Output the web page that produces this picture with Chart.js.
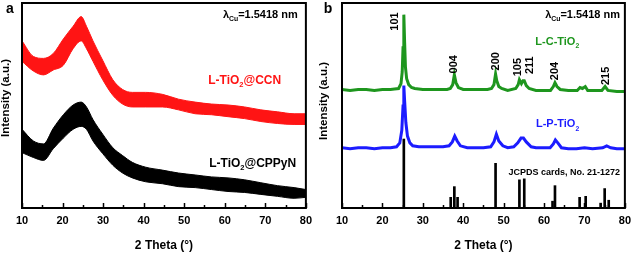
<!DOCTYPE html>
<html><head><meta charset="utf-8">
<script src="https://cdn.jsdelivr.net/npm/chart.js@4.4.1/dist/chart.umd.min.js"></script>
<style>
html,body{margin:0;padding:0;background:#fff;overflow:hidden;width:637px;height:255px}
canvas{position:absolute;top:0}
#ca{left:0}#cb{left:318px}
</style></head><body>
<canvas id="ca" width="318" height="255"></canvas>
<canvas id="cb" width="319" height="255"></canvas>
<script>
// ---------- Panel a data (amorphous, band envelopes) ----------
const thetaA = [10,12.8,15.3,17.7,20.2,22.6,24.6,25.9,27.5,29.9,32.4,34.8,37.2,40.5,44.6,48.6,52.7,56.7,60.8,64.9,68.9,73,77.1,80];
const ccnUpper = [172,156,154,159,174,187,197,187,172,152,132,122,119,119,117,112,109,107,106,104,101,99,97,97];
const ccnLower = [151,141,137,142,147,164,172,164,151,132,116,107,104,104,104,101,97,96,94,92,89,87,86,86];
const cppynUpper = [81,69,66,82,96,106,109,104,91,76,62,54,47,42,39,36,34,32,31,29,26,23,21,19];
const cppynLower = [57,52,49,61,72,81,84,81,69,56,44,36,31,27,25,22,21,19,17,16,14,12,10,11];

// ---------- Panel b data ----------
const lcTheta = [10,12,14,16,18,20,22,23,24.0,24.6,24.9,25.1,25.3,25.5,25.7,26.0,26.5,27.2,28,30,32,34,36,36.8,37.4,37.8,38.2,38.8,40,42,44,46,47.0,47.6,48.0,48.3,48.8,49.5,51,53.0,53.6,53.9,54.4,54.8,55.1,55.6,56.3,58,60,61.6,62.3,62.7,63.2,64.0,66,68.2,68.9,69.5,70.2,70.8,72,74.3,75.1,75.8,78,80];
const lcInt = [122,121,122,122,121,122,122,122.5,123,128,140,165,199,170,145,133,127,124,123,122,122,122,122,123,127,137,129,124,122,122,122,122,123,127,138,131,125,123,121,123,127,132,128,131,131,126,123,121,121,121,125,129,125,122,121,121,124,123,125,121,121,121,125,121,120,120];
const lpTheta = [10,12,14,16,18,20,22,23.5,24.3,24.8,25.1,25.3,25.5,25.8,26.2,26.8,27.5,29,31,33,35,36.5,37.3,37.9,38.5,39.3,41,43,45,46.8,47.6,48.2,48.8,49.8,51,52.5,53.5,54.3,54.9,55.6,56.8,58,60,61.5,62.3,62.8,63.4,64.3,66,68,70,72,74.5,75.5,76.5,78,80];
const lpInt = [62,61,62,62,61,62,62,63,67,80,105,126,110,88,74,67,64,63,63,63,63,64,68,74,69,64,62,62,62,63,68,76,69,64,62,63,67,72,72,68,63,62,62,62,66,70,67,62,61,61,62,61,62,64,62,61,61];
const jcpdsTheta = [25.3,36.9,37.8,38.6,48.0,53.9,55.1,62.1,62.7,68.8,70.3,74.0,75.0,76.0];
const jcpdsInt = [71,11,22,11,46,29,30,7,23,11,12,5,20,8];
const hklLabels = ['101','004','200','105','211','204','215'];

const xTicks = [10,20,30,40,50,60,70,80];

const RED='#ff1414', GREEN='#1e961e', BLUE='#1c1cff';
const FONT='"Liberation Sans", Arial, sans-serif';

function pts(xs, ys){ return xs.map((x,i)=>({x:x,y:ys[i]})); }

function drawRich(ctx, parts, x, y, align, size, color){
  let total=0;
  const w = parts.map(p=>{ ctx.font='bold '+(p.sub?size*0.62:size)+'px '+FONT; const m=ctx.measureText(p.t).width; total+=m; return m; });
  let cx = align==='right'? x-total : align==='center'? x-total/2 : x;
  ctx.fillStyle=color; ctx.textBaseline='middle'; ctx.textAlign='left';
  parts.forEach((p,i)=>{ ctx.font='bold '+(p.sub?size*0.62:size)+'px '+FONT; ctx.fillText(p.t, cx, p.sub? y+size*0.38 : y); cx+=w[i]; });
}

const deco = {
  id:'deco',
  afterDatasetsDraw(chart, args, o){
    const ctx=chart.ctx, a=chart.chartArea, xs=chart.scales.x, ys=chart.scales.y;
    ctx.save();
    ctx.strokeStyle='#000'; ctx.lineWidth=2;
    ctx.strokeRect(a.left, a.top, a.right-a.left, a.bottom-a.top);
    ctx.lineWidth=1.5;
    for(let v=10; v<=80; v+=5){
      const px=Math.round(xs.getPixelForValue(v))+0.5;
      const len = v%10===0 ? 5 : 3;
      ctx.beginPath(); ctx.moveTo(px, a.bottom); ctx.lineTo(px, a.bottom-len); ctx.stroke();
    }
    // y title
    ctx.save();
    ctx.translate(o.yTitleX, o.yTitleY); ctx.rotate(-Math.PI/2);
    ctx.font='bold 11.5px '+FONT; ctx.fillStyle='#000'; ctx.textAlign='center'; ctx.textBaseline='middle';
    ctx.fillText('Intensity (a.u.)',0,0);
    ctx.restore();
    // panel letter
    ctx.font='bold 14px '+FONT; ctx.fillStyle='#000'; ctx.textAlign='center'; ctx.textBaseline='middle';
    ctx.fillText(o.letter, o.letterX, o.letterY);
    (o.texts||[]).forEach(t=>{
      drawRich(ctx, t.parts, xs.getPixelForValue(t.x), ys.getPixelForValue(t.y), t.align, t.size, t.color);
    });
    (o.rot||[]).forEach(t=>{
      ctx.save();
      ctx.translate(xs.getPixelForValue(t.x), ys.getPixelForValue(t.y)); ctx.rotate(-Math.PI/2);
      ctx.font='bold 11px '+FONT; ctx.fillStyle='#000'; ctx.textAlign='center'; ctx.textBaseline='middle';
      ctx.fillText(t.t,0,0);
      ctx.restore();
    });
    ctx.restore();
  }
};

function scales(){
  return {
    x:{type:'linear',min:10,max:80,offset:false,
       afterBuildTicks:(s)=>{s.ticks=xTicks.map(v=>({value:v}));},
       ticks:{font:{family:FONT,weight:'bold',size:11},color:'#000',padding:6,maxRotation:0,autoSkip:false},
       grid:{display:false,drawTicks:false},border:{display:false},
       title:{display:true,text:'2 Theta (°)',color:'#000',font:{family:FONT,weight:'bold',size:12,lineHeight:1.2},padding:{top:5.6,bottom:1.8}}},
    y:{display:false,min:0,max:211}
  };
}

const lam = [{t:'λ'},{t:'Cu',sub:true},{t:'=1.5418 nm'}];

new Chart(document.getElementById('ca'),{
  type:'line',
  data:{datasets:[
    {data:pts(thetaA,ccnLower),borderColor:RED,backgroundColor:RED,borderWidth:1,pointRadius:0,cubicInterpolationMode:'monotone',fill:false},
    {data:pts(thetaA,ccnUpper),borderColor:RED,backgroundColor:RED,borderWidth:1,pointRadius:0,cubicInterpolationMode:'monotone',fill:'-1'},
    {data:pts(thetaA,cppynLower),borderColor:'#000',backgroundColor:'#000',borderWidth:1,pointRadius:0,cubicInterpolationMode:'monotone',fill:false},
    {data:pts(thetaA,cppynUpper),borderColor:'#000',backgroundColor:'#000',borderWidth:1,pointRadius:0,cubicInterpolationMode:'monotone',fill:'-1'}
  ]},
  options:{responsive:false,animation:false,devicePixelRatio:1,
    layout:{padding:{left:22,right:10,top:3,bottom:0}},
    scales:scales(),
    plugins:{legend:{display:false},tooltip:{enabled:false},
      deco:{letter:'a',letterX:10,letterY:9,yTitleX:6,yTitleY:98,
        texts:[
          {parts:lam,x:78.0,y:199,align:'right',size:11,color:'#000'},
          {parts:[{t:'L-TiO'},{t:'2',sub:true},{t:'@CCN'}],x:73.9,y:131,align:'right',size:12,color:RED},
          {parts:[{t:'L-TiO'},{t:'2',sub:true},{t:'@CPPyN'}],x:77.6,y:46,align:'right',size:12,color:'#000'}
        ]}}
  },
  plugins:[deco]
});

new Chart(document.getElementById('cb'),{
  type:'line',
  data:{datasets:[
    {type:'bar',data:pts(jcpdsTheta,jcpdsInt),backgroundColor:'#000',barThickness:2,borderWidth:0},
    {data:pts(lpTheta,lpInt),borderColor:BLUE,borderWidth:3,pointRadius:0,tension:0,fill:false},
    {data:pts(lcTheta,lcInt),borderColor:GREEN,borderWidth:3,pointRadius:0,tension:0,fill:false}
  ]},
  options:{responsive:false,animation:false,devicePixelRatio:1,
    layout:{padding:{left:24,right:9,top:3,bottom:0}},
    scales:scales(),
    plugins:{legend:{display:false},tooltip:{enabled:false},
      deco:{letter:'b',letterX:10,letterY:9,yTitleX:6,yTitleY:101,
        texts:[
          {parts:lam,x:78.8,y:199,align:'right',size:11,color:'#000'},
          {parts:[{t:'L-C-TiO'},{t:'2',sub:true}],x:68.7,y:171,align:'right',size:11,color:GREEN},
          {parts:[{t:'L-P-TiO'},{t:'2',sub:true}],x:68.7,y:86,align:'right',size:11,color:BLUE},
          {parts:[{t:'JCPDS cards, No. 21-1272'}],x:78.8,y:37,align:'right',size:9,color:'#000'}
        ],
        rot:[
          {t:hklLabels[0],x:23.2,y:192},{t:hklLabels[1],x:37.8,y:148},{t:hklLabels[2],x:48.0,y:151},
          {t:hklLabels[3],x:53.5,y:145},{t:hklLabels[4],x:56.4,y:147},{t:hklLabels[5],x:62.7,y:141},{t:hklLabels[6],x:75.2,y:136}
        ]}}
  },
  plugins:[deco]
});
</script>
</body></html>
